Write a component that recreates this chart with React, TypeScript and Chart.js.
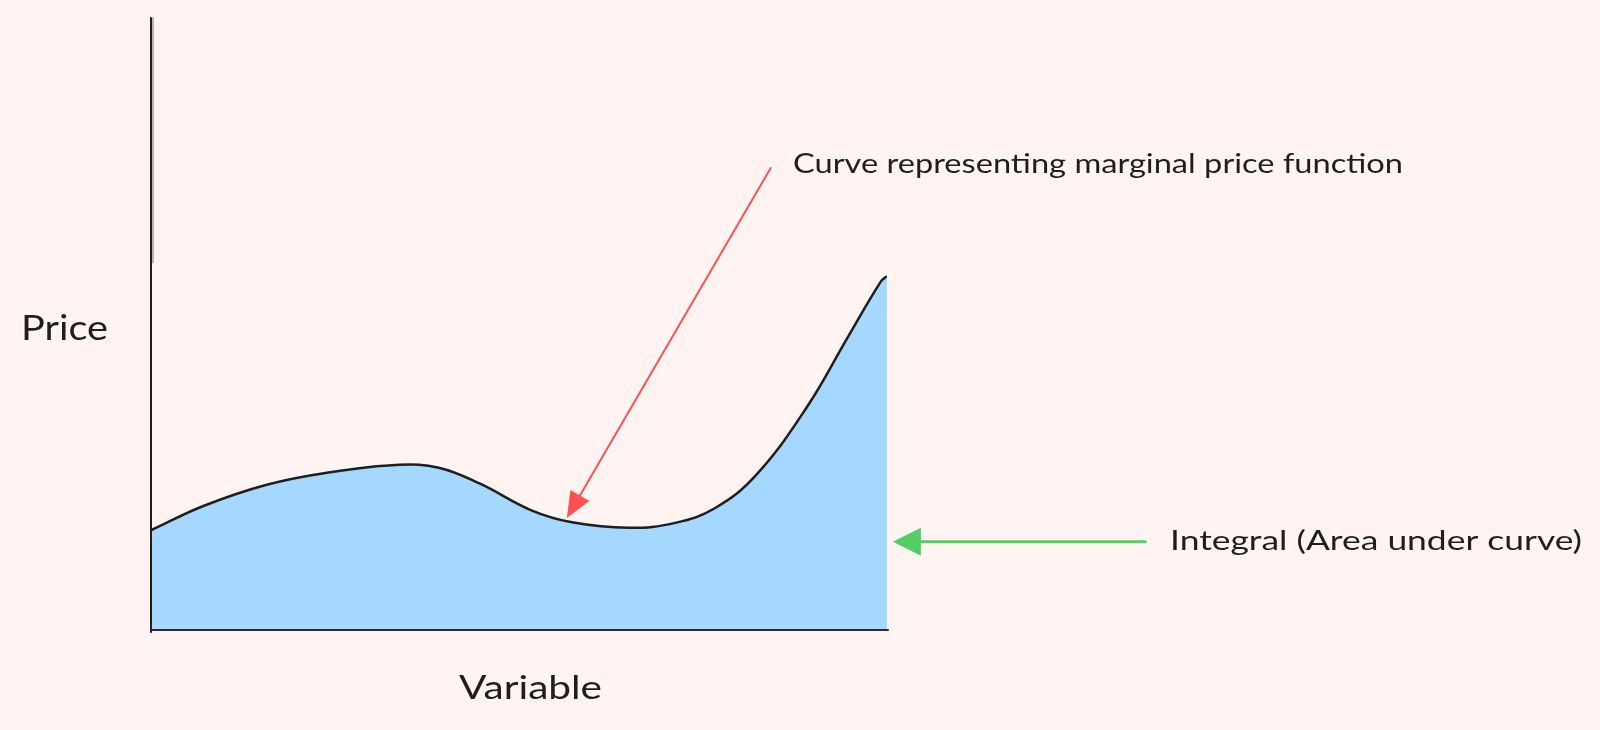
import React, { useEffect, useRef } from "react";
import { Chart, registerables } from "chart.js";

Chart.register(...registerables);

// Curve data (variable, price) in chart units 0..100
const curveX = [0, 7.2, 15.6, 23.9, 33.7, 39.1, 44.7, 51.6, 57.2, 64.9, 71.2, 76.6, 82.2, 89.1, 94.7, 99.2, 100];
const curveY = [16.3, 20.3, 23.7, 25.7, 27.0, 26.5, 23.9, 19.6, 17.6, 16.7, 17.5, 19.9, 25.3, 36.4, 47.9, 57.0, 57.8];

// Annotation anchors (data units)
const redArrowTail = { x: 84.2, y: 75.5 };
const redArrowTip = { x: 56.5, y: 18.3 };
const greenArrowTail = { x: 135.1, y: 14.4 };
const greenArrowTip = { x: 100.8, y: 14.4 };

// Labels
const yLabel = "Price";
const xLabel = "Variable";
const curveLabel = "Curve representing marginal price function";
const areaLabel = "Integral (Area under curve)";

const BG = "#fff4f2";
const INK = "#1e1e1e";
const FONT = "Lato, 'DejaVu Sans', sans-serif";

function drawArrow(
  ctx: CanvasRenderingContext2D,
  x1: number, y1: number, x2: number, y2: number,
  color: string, width: number, headLen: number, headHalf: number
) {
  const ang = Math.atan2(y2 - y1, x2 - x1);
  const bx = x2 - Math.cos(ang) * headLen;
  const by = y2 - Math.sin(ang) * headLen;
  ctx.save();
  ctx.strokeStyle = color;
  ctx.fillStyle = color;
  ctx.lineWidth = width;
  ctx.lineCap = "round";
  ctx.beginPath();
  ctx.moveTo(x1, y1);
  ctx.lineTo(bx, by);
  ctx.stroke();
  ctx.beginPath();
  ctx.moveTo(x2, y2);
  ctx.lineTo(bx + Math.cos(ang + Math.PI / 2) * headHalf, by + Math.sin(ang + Math.PI / 2) * headHalf);
  ctx.lineTo(bx + Math.cos(ang - Math.PI / 2) * headHalf, by + Math.sin(ang - Math.PI / 2) * headHalf);
  ctx.closePath();
  ctx.fill();
  ctx.restore();
}

function drawFitText(
  ctx: CanvasRenderingContext2D, text: string,
  left: number, baseline: number, targetW: number, size: number
) {
  ctx.save();
  ctx.font = `${size}px ${FONT}`;
  ctx.fillStyle = INK;
  ctx.textBaseline = "alphabetic";
  ctx.textAlign = "left";
  const w = ctx.measureText(text).width;
  ctx.translate(left, baseline);
  ctx.scale(targetW / w, 1);
  ctx.fillText(text, 0, 0);
  ctx.restore();
}

const annotations = {
  id: "sketchAnnotations",
  afterDatasetsDraw(chart: any) {
    const ctx: CanvasRenderingContext2D = chart.ctx;
    const xs = chart.scales.x;
    const ys = chart.scales.y;
    const px = (v: number) => xs.getPixelForValue(v);
    const py = (v: number) => ys.getPixelForValue(v);

    // axes
    ctx.save();
    ctx.strokeStyle = INK;
    ctx.lineCap = "round";
    ctx.lineWidth = 2;
    ctx.beginPath();
    ctx.moveTo(px(0), py(100));
    ctx.lineTo(px(0), py(0) + 2);
    ctx.stroke();
    ctx.lineWidth = 1;
    ctx.strokeStyle = "rgba(30,30,30,0.6)";
    ctx.beginPath();
    ctx.moveTo(px(0) + 2, py(100) - 0.5);
    ctx.lineTo(px(0) + 2, py(60));
    ctx.stroke();
    ctx.strokeStyle = "#2b2b2b";
    ctx.lineWidth = 2;
    ctx.beginPath();
    ctx.moveTo(px(0), py(0));
    ctx.lineTo(px(100) + 1, py(0));
    ctx.stroke();
    ctx.restore();

    // arrows
    drawArrow(ctx, px(redArrowTail.x), py(redArrowTail.y), px(redArrowTip.x), py(redArrowTip.y),
      "#fa5252", 2, 26, 11);
    drawArrow(ctx, px(greenArrowTail.x), py(greenArrowTail.y), px(greenArrowTip.x), py(greenArrowTip.y),
      "#51cf66", 3, 28, 14);

    // labels
    drawFitText(ctx, yLabel, 21, 340, 87, 34);
    drawFitText(ctx, xLabel, 459, 699, 143, 33);
    drawFitText(ctx, curveLabel, 793, 173, 610, 26);
    drawFitText(ctx, areaLabel, 1170, 550, 412, 26);
  },
};

export default function App() {
  const ref = useRef<HTMLCanvasElement | null>(null);

  useEffect(() => {
    document.body.style.margin = "0";
    document.body.style.background = BG;
    const canvas = ref.current;
    if (!canvas) return;
    const points = curveX.map((x, i) => ({ x, y: curveY[i] }));
    const chart = new Chart(canvas, {
      type: "line",
      data: {
        datasets: [
          {
            data: points,
            borderColor: INK,
            borderWidth: 2.5,
            backgroundColor: "#a5d8ff",
            fill: "origin",
            pointRadius: 0,
            tension: 0.4,
          },
        ],
      },
      options: {
        animation: false,
        responsive: false,
        maintainAspectRatio: false,
        devicePixelRatio: 1,
        layout: { padding: { left: 151, right: 713, top: 18, bottom: 100 } },
        scales: {
          x: { type: "linear", min: 0, max: 100, display: false },
          y: { type: "linear", min: 0, max: 100, display: false },
        },
        plugins: { legend: { display: false }, tooltip: { enabled: false } },
      },
      plugins: [annotations],
    });
    return () => chart.destroy();
  }, []);

  return (
    <div style={{ position: "fixed", left: 0, top: 0, width: 1600, height: 730, background: BG }}>
      <canvas ref={ref} width={1600} height={730} style={{ width: 1600, height: 730, display: "block" }} />
    </div>
  );
}
